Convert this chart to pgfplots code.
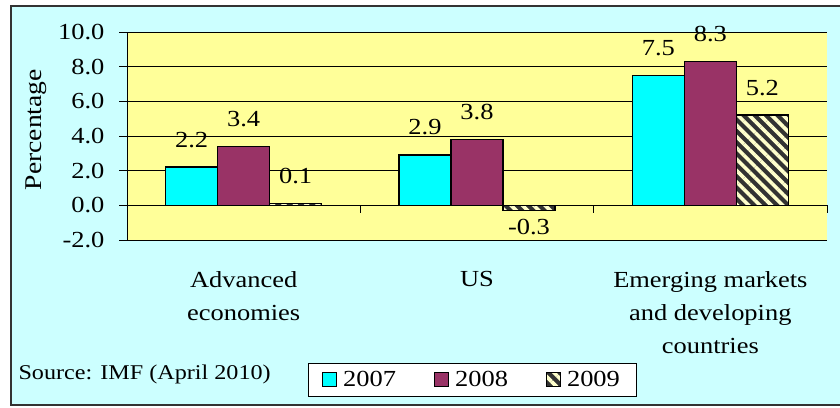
\documentclass[border=0pt]{standalone}
\usepackage{fontspec}
\setmainfont{Liberation Serif}[FakeStretch=1.15]
\usepackage{pgfplots}
\pgfplotsset{compat=1.18}
\usetikzlibrary{patterns.meta}

\definecolor{bgcyan}{HTML}{CCFFFF}
\definecolor{plotyellow}{HTML}{FFFF99}
\definecolor{c07}{HTML}{00FFFF}
\definecolor{c08}{HTML}{993366}
\definecolor{c09}{HTML}{333333}
\definecolor{stripe}{HTML}{FFFFCC}

\newcommand{\bigf}{\fontsize{23}{33}\selectfont}

\begin{document}
\begin{tikzpicture}[x=1pt,y=1pt]
\useasboundingbox (0,0) rectangle (840,407);
\fill[bgcyan] (11,2) rectangle (840,401);
\draw[black!80, line width=1.5pt] (840,401) -- (11,401) -- (11,2) -- (840,2);

\begin{axis}[
  at={(127pt,167pt)}, anchor=south west,
  width=700pt, height=208pt, scale only axis,
  ybar=0pt, bar width=52pt,
  xmin=-0.5, xmax=2.5, ymin=-2, ymax=10,
  axis background/.style={fill=plotyellow},
  axis x line*=bottom, axis y line*=left,
  axis line style={-, black, line width=0.8pt},
  xtick={0,1,2},
  xticklabels={Advanced\\economies, US, Emerging markets\\and developing\\countries},
  x tick style={draw=none},
  xticklabel style={font=\bigf, align=center, anchor=north, yshift=-20pt},
  ytick={-2,0,2,4,6,8,10},
  tick align=outside, major tick length=8pt,
  y tick style={black, line width=0.8pt},
  yticklabel={\pgfmathprintnumber[fixed,fixed zerofill,precision=1,assume math mode=true]{\tick}},
  yticklabel style={font=\bigf, xshift=-11pt},
  ymajorgrids, major grid style={black, line width=0.8pt},
  ylabel={Percentage},
  every axis y label/.style={at={(axis description cs:-0.129,0.53)}, rotate=90, anchor=center, font=\fontsize{24}{28}\selectfont},
  nodes near coords={\raisebox{16pt}{\rule{0pt}{20pt}\pgfmathprintnumber[fixed,fixed zerofill,precision=1,assume math mode=true]{\pgfplotspointmeta}}},
  nodes near coords align={vertical},
  every node near coord/.append style={font=\bigf, text=black},
  legend style={at={(0.493,-0.673)}, anchor=center, draw=black, fill=white,
    line width=0.8pt, font=\bigf, legend columns=3, inner xsep=14pt, inner ysep=6pt,
    /tikz/every odd column/.append style={column sep=4pt},
    /tikz/every even column/.append style={column sep=36pt}},
  legend image code/.code={\draw[#1, draw=black, line width=1pt] (0pt,-7pt) rectangle (14pt,7pt);},
  clip=false,
]

\addplot[fill=c07, draw=black, line width=1.5pt]
  coordinates {(0,2.2) (1,2.9) (2,7.5)};
\addplot[fill=c08, draw=black, line width=1.5pt]
  coordinates {(0,3.4) (1,3.8) (2,8.3)};
\addplot[fill=c09, draw=black, line width=1.5pt,
  postaction={pattern={Lines[angle=-45,distance=8pt,line width=3.6pt]}, pattern color=stripe}]
  coordinates {(0,0.1) (1,-0.3) (2,5.2)};

\legend{2007,2008,2009}

% category separators on the zero line
\draw[black, line width=0.8pt] (axis cs:-0.5,0) -- (axis cs:2.5,0);
\draw[black, line width=0.8pt] (axis cs:-0.5,0) -- ++(0pt,-8pt);
\draw[black, line width=0.8pt] (axis cs:0.5,0) -- ++(0pt,-8pt);
\draw[black, line width=0.8pt] (axis cs:1.5,0) -- ++(0pt,-8pt);
\draw[black, line width=0.8pt] (axis cs:2.5,0) -- ++(0pt,-8pt);
\end{axis}

\node[anchor=base west, font=\fontsize{21}{25}\selectfont] at (15,28) {Source: IMF (April 2010)};
\end{tikzpicture}
\end{document}
